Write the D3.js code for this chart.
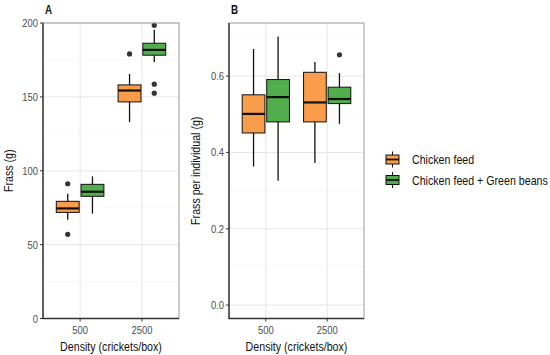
<!DOCTYPE html>
<html>
<head>
<meta charset="utf-8">
<script src="https://cdn.jsdelivr.net/npm/d3@7"></script>
<style>
  body { margin: 0; background: #fff; }
  text { font-family: "Liberation Sans", Arial, sans-serif; }
</style>
</head>
<body>
<script>
// data
var densities = ["500", "2500"];
var diets = ["Chicken feed", "Chicken feed + Green beans"];
var dietColors = ["#F99D4A", "#52AE4C"];

// [low whisker, q1, median, q3, high whisker]
var frassStats = [
    [66.9, 71.8, 74.5, 79.3, 84.5],     // 500, chicken feed
    [71.0, 82.7, 85.8, 90.8, 96.2],     // 500, + green beans
    [132.9, 146.6, 154.3, 158.1, 165.5], // 2500, chicken feed
    [173.6, 178.2, 181.8, 186.3, 195.5]  // 2500, + green beans
];
var frassOutliers = [[91.2, 57.0], [], [179.1], [198.4, 158.6, 152.5]];

var perIndStats = [
    [0.363, 0.451, 0.501, 0.551, 0.671],
    [0.326, 0.480, 0.545, 0.591, 0.704],
    [0.372, 0.480, 0.531, 0.610, 0.637],
    [0.475, 0.528, 0.540, 0.571, 0.608]
];
var perIndOutliers = [[], [], [], [0.656]];

var frassTicks = [0, 50, 100, 150, 200];
var perIndTicks = [0, 0.2, 0.4, 0.6];

var width = 550, height = 355;
var squeeze = 0.82; // the figure's type is a narrow sans

var svg = d3.select("body").append("svg")
    .attr("width", width)
    .attr("height", height);

function drawPanel(opt) {
    var left = opt.left, right = opt.right, top = 23, bottom = 318.5;

    // discrete x: centres at 0.6 and 1.6 units of a 2.2 unit wide panel
    var x = d3.scalePoint().domain(densities)
        .range([left, right]).padding(0.6);
    var unit = (right - left) / 2.2;
    var cx = function(d) { return x(d); };

    var y = d3.scaleLinear().domain(opt.domain).range([bottom, top]);

    var g = svg.append("g");

    // grid
    g.selectAll(".minor").data(opt.minor).enter().append("line")
        .attr("x1", left).attr("x2", right)
        .attr("y1", function(d) { return y(d); }).attr("y2", function(d) { return y(d); })
        .attr("stroke", "#f2f2f2").attr("stroke-width", 0.6);
    g.selectAll(".major").data(opt.ticks).enter().append("line")
        .attr("x1", left).attr("x2", right)
        .attr("y1", function(d) { return y(d); }).attr("y2", function(d) { return y(d); })
        .attr("stroke", "#e6e6e6").attr("stroke-width", 1);
    g.selectAll(".vmajor").data(densities).enter().append("line")
        .attr("x1", cx).attr("x2", cx)
        .attr("y1", top).attr("y2", bottom)
        .attr("stroke", "#e6e6e6").attr("stroke-width", 1);

    // boxes
    var boxW = 0.37 * unit;
    var items = [];
    densities.forEach(function(dn, i) {
        diets.forEach(function(dt, j) {
            items.push({
                x: cx(dn) + (j === 0 ? -0.2 : 0.2) * unit,
                s: opt.stats[i * 2 + j],
                out: opt.outliers[i * 2 + j],
                color: dietColors[j]
            });
        });
    });

    var boxes = g.selectAll(".box").data(items).enter().append("g");
    boxes.append("line")
        .attr("x1", function(d) { return d.x; }).attr("x2", function(d) { return d.x; })
        .attr("y1", function(d) { return y(d.s[0]); }).attr("y2", function(d) { return y(d.s[4]); })
        .attr("stroke", "#111").attr("stroke-width", 1.3);
    boxes.append("rect")
        .attr("x", function(d) { return d.x - boxW / 2; })
        .attr("width", boxW)
        .attr("y", function(d) { return y(d.s[3]); })
        .attr("height", function(d) { return y(d.s[1]) - y(d.s[3]); })
        .attr("fill", function(d) { return d.color; })
        .attr("stroke", "#111").attr("stroke-width", 1);
    boxes.append("line")
        .attr("x1", function(d) { return d.x - boxW / 2; }).attr("x2", function(d) { return d.x + boxW / 2; })
        .attr("y1", function(d) { return y(d.s[2]); }).attr("y2", function(d) { return y(d.s[2]); })
        .attr("stroke", "#111").attr("stroke-width", 2.2);
    boxes.selectAll("circle").data(function(d) {
        return d.out.map(function(v) { return { x: d.x, v: v }; });
    }).enter().append("circle")
        .attr("cx", function(d) { return d.x; })
        .attr("cy", function(d) { return y(d.v); })
        .attr("r", 2.6).attr("fill", "#333");

    // border + axis lines
    g.append("rect")
        .attr("x", left).attr("y", top)
        .attr("width", right - left).attr("height", bottom - top)
        .attr("fill", "none").attr("stroke", "#9a9a9a").attr("stroke-width", 1);
    g.append("path")
        .attr("d", "M" + left + "," + top + "V" + bottom + "H" + right)
        .attr("fill", "none").attr("stroke", "#333").attr("stroke-width", 1.4);

    // y ticks
    var yt = g.selectAll(".yt").data(opt.ticks).enter().append("g")
        .attr("transform", function(d) { return "translate(" + left + "," + y(d) + ")"; });
    yt.append("line").attr("x1", -3).attr("x2", 0).attr("stroke", "#333");
    yt.append("text").attr("x", -5).attr("dy", "0.35em")
        .attr("text-anchor", "end").attr("font-size", 11.5).attr("fill", "#4d4d4d")
        .text(opt.fmt);

    // x ticks
    var xt = g.selectAll(".xt").data(densities).enter().append("g")
        .attr("transform", function(d) { return "translate(" + cx(d) + "," + bottom + ")"; });
    xt.append("line").attr("y1", 0).attr("y2", 3).attr("stroke", "#333");
    xt.append("text").attr("y", 16).attr("text-anchor", "middle")
        .attr("font-size", 11.5).attr("fill", "#4d4d4d").text(function(d) { return d; });

    // titles
    g.append("text").attr("x", (left + right) / 2).attr("y", 351)
        .attr("text-anchor", "middle").attr("font-size", 13).attr("fill", "#111")
        .text("Density (crickets/box)");
    g.append("text")
        .attr("transform", "translate(" + opt.ytitleX + "," + (top + bottom) / 2 + ") rotate(-90)")
        .attr("text-anchor", "middle").attr("font-size", 13).attr("fill", "#111")
        .text(opt.ytitle);
    g.append("text").attr("x", left + 2).attr("y", 14)
        .attr("font-size", 12).attr("font-weight", "bold").attr("fill", "#111")
        .text(opt.tag);
}

drawPanel({
    left: 43, right: 179, tag: "A",
    domain: [0, 200], ticks: frassTicks, minor: [25, 75, 125, 175],
    stats: frassStats, outliers: frassOutliers,
    fmt: function(d) { return d; },
    ytitle: "Frass (g)", ytitleX: 13
});

drawPanel({
    left: 229, right: 364, tag: "B",
    domain: [-0.0352, 0.7392], ticks: perIndTicks, minor: [0.1, 0.3, 0.5, 0.7],
    stats: perIndStats, outliers: perIndOutliers,
    fmt: d3.format(".1f"),
    ytitle: "Frass per individual (g)", ytitleX: 200
});

// legend
var legend = svg.append("g").selectAll("g").data(diets).enter().append("g")
    .attr("transform", function(d, i) { return "translate(392.5," + (159.5 + i * 20.5) + ")"; });
legend.append("line").attr("y1", -8).attr("y2", 8).attr("stroke", "#111").attr("stroke-width", 1);
legend.append("rect").attr("x", -6.5).attr("y", -4.5).attr("width", 13).attr("height", 9)
    .attr("fill", function(d, i) { return dietColors[i]; })
    .attr("stroke", "#111").attr("stroke-width", 1);
legend.append("line").attr("x1", -6.5).attr("x2", 6.5).attr("stroke", "#111").attr("stroke-width", 1.8);
legend.append("text").attr("x", 19.5).attr("dy", "0.35em")
    .attr("font-size", 13).attr("fill", "#111").text(function(d) { return d; });

// narrow every label to match the condensed type of the original
svg.selectAll("text").each(function() {
    var t = d3.select(this);
    var x0 = +t.attr("x") || 0;
    t.attr("x", x0 / squeeze)
     .attr("transform", (t.attr("transform") || "") + " scale(" + squeeze + ",1)");
});
</script>
</body>
</html>
